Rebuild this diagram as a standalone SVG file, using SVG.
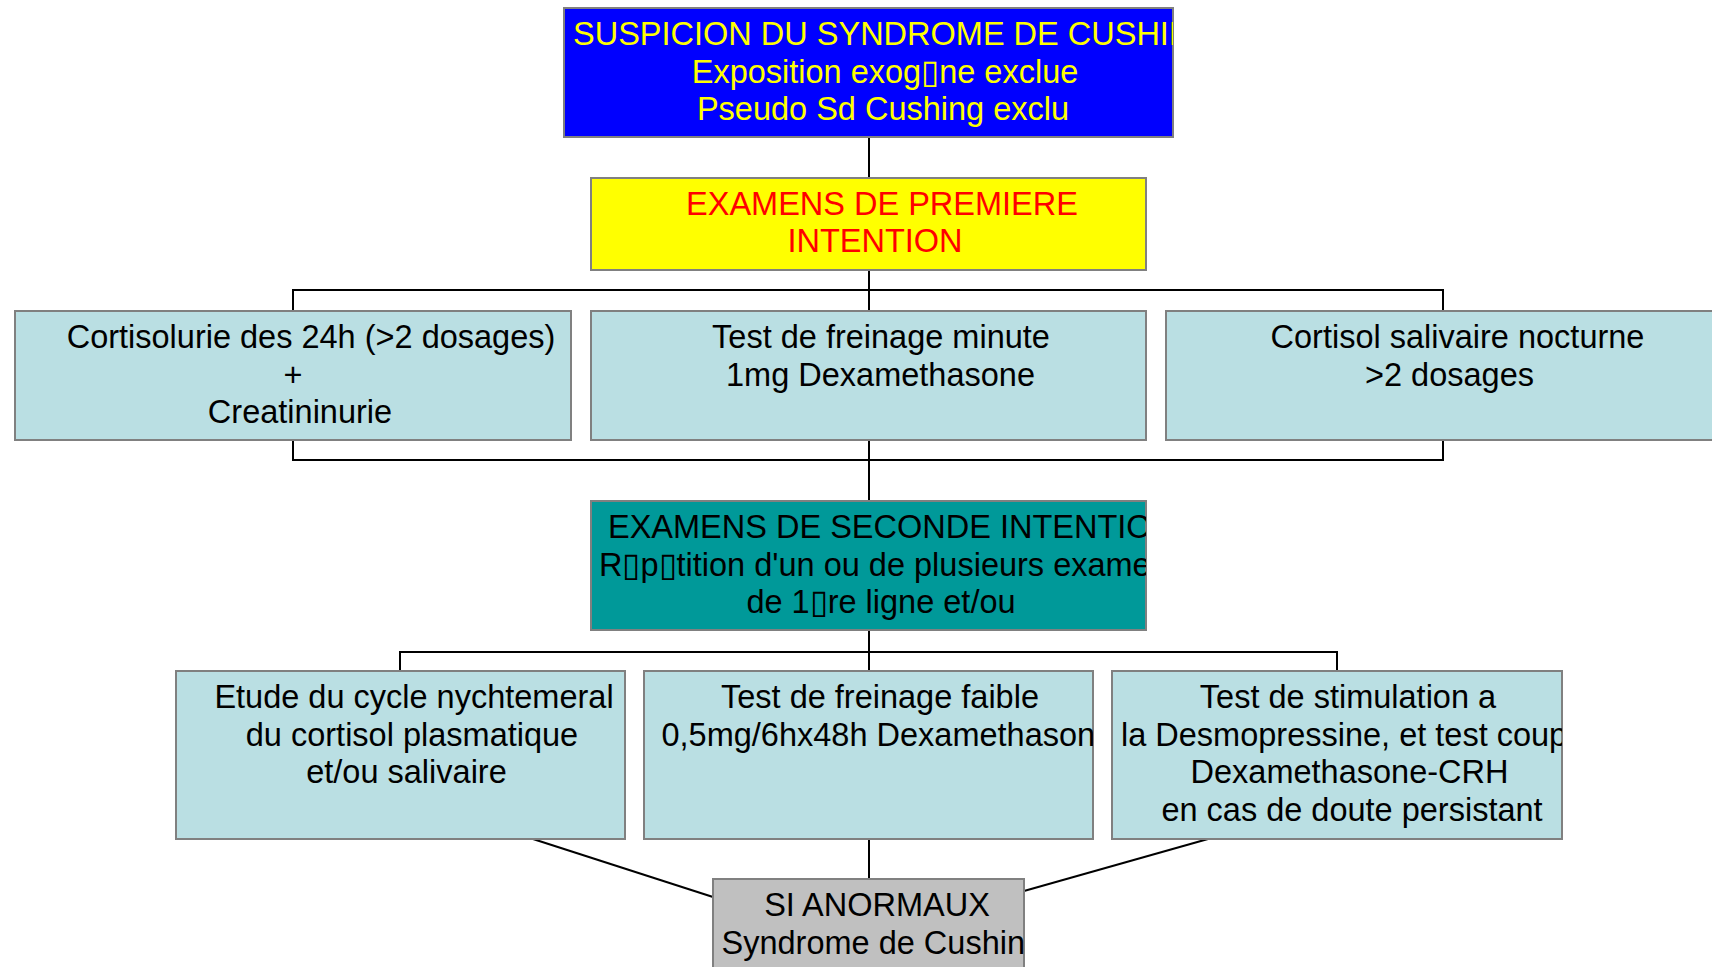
<svg xmlns="http://www.w3.org/2000/svg" width="1712" height="967" viewBox="0 0 1712 967">
<style>
.box{stroke:#808080;stroke-width:2}
.t{font-family:"Liberation Sans",Arial,sans-serif;font-size:32.5px}
.c{text-anchor:middle}
.conn{stroke:#000;stroke-width:2;fill:none}
.lb{fill:#BADFE3}
</style>
<defs>
<clipPath id="cp-top"><rect x="564" y="8" width="609" height="129"/></clipPath>
<clipPath id="cp-sec"><rect x="591" y="501" width="555" height="129"/></clipPath>
<clipPath id="cp-b2"><rect x="644" y="671" width="449" height="168"/></clipPath>
<clipPath id="cp-c2"><rect x="1112" y="671" width="450" height="168"/></clipPath>
<clipPath id="cp-res"><rect x="713" y="879" width="311" height="100"/></clipPath>
</defs>
<rect width="1712" height="967" fill="#fff"/>
<g id="connectors">
<line class="conn" x1="869" y1="137" x2="869" y2="178"/>
<path class="conn" d="M869 270V311M293 311V290H1443V311"/>
<path class="conn" d="M293 440V460H1443V440M869 440V501"/>
<path class="conn" d="M869 630V671M400 671V652H1337V671"/>
<line class="conn" x1="869" y1="839" x2="869" y2="879"/>
<line class="conn" x1="533" y1="839" x2="713" y2="897"/>
<line class="conn" x1="1208" y1="839" x2="1024" y2="891"/>
</g>
<g id="n-suspicion">
<rect class="box" x="564" y="8" width="609" height="129" fill="#0000FF"/>
<g clip-path="url(#cp-top)" class="t" fill="#FFFF00">
<text x="573" y="45">SUSPICION DU SYNDROME DE CUSHING</text>
<text class="c" x="885" y="82.5">Exposition exog▯ne exclue</text>
<text class="c" x="883" y="120">Pseudo Sd Cushing exclu</text>
</g>
</g>
<g id="n-premiere">
<rect class="box" x="591" y="178" width="555" height="92" fill="#FFFF00"/>
<text class="t c" fill="#FF0000" x="882" y="215">EXAMENS DE PREMIERE</text>
<text class="t c" fill="#FF0000" x="875" y="252">INTENTION</text>
</g>
<g id="n-cortisolurie">
<rect class="box lb" x="15" y="311" width="556" height="129"/>
<text class="t c" x="311" y="348">Cortisolurie des 24h (&gt;2 dosages)</text>
<text class="t c" x="293" y="385.5">+</text>
<text class="t c" x="300" y="423">Creatininurie</text>
</g>
<g id="n-freinage-minute">
<rect class="box lb" x="591" y="311" width="555" height="129"/>
<text class="t c" x="881" y="348">Test de freinage minute</text>
<text class="t c" x="880.5" y="385.5">1mg Dexamethasone</text>
</g>
<g id="n-salivaire">
<rect class="box lb" x="1166" y="311" width="556" height="129"/>
<text class="t c" x="1457.5" y="348">Cortisol salivaire nocturne</text>
<text class="t c" x="1449.5" y="385.5">&gt;2 dosages</text>
</g>
<g id="n-seconde">
<rect class="box" x="591" y="501" width="555" height="129" fill="#009999"/>
<g clip-path="url(#cp-sec)" class="t" fill="#000">
<text x="608" y="538">EXAMENS DE SECONDE INTENTION</text>
<text x="599" y="575.5">R▯p▯tition d'un ou de plusieurs examens</text>
<text class="c" x="881" y="613">de 1▯re ligne et/ou</text>
</g>
</g>
<g id="n-cycle">
<rect class="box lb" x="176" y="671" width="449" height="168"/>
<text class="t c" x="414" y="708">Etude du cycle nychtemeral</text>
<text class="t c" x="412" y="745.5">du cortisol plasmatique</text>
<text class="t c" x="406.5" y="783">et/ou salivaire</text>
</g>
<g id="n-freinage-faible">
<rect class="box lb" x="644" y="671" width="449" height="168"/>
<g clip-path="url(#cp-b2)" class="t">
<text class="c" x="880" y="708">Test de freinage faible</text>
<text x="661.5" y="745.5">0,5mg/6hx48h Dexamethasone</text>
</g>
</g>
<g id="n-stimulation">
<rect class="box lb" x="1112" y="671" width="450" height="168"/>
<g clip-path="url(#cp-c2)" class="t">
<text class="c" x="1348" y="708">Test de stimulation a</text>
<text x="1121" y="745.5">la Desmopressine, et test couplé</text>
<text class="c" x="1349.5" y="783">Dexamethasone-CRH</text>
<text class="c" x="1352" y="820.5">en cas de doute persistant</text>
</g>
</g>
<g id="n-anormaux">
<rect class="box" x="713" y="879" width="311" height="100" fill="#C0C0C0"/>
<g clip-path="url(#cp-res)" class="t">
<text class="c" x="877" y="916">SI ANORMAUX</text>
<text x="721.5" y="954">Syndrome de Cushing</text>
</g>
</g>
</svg>
